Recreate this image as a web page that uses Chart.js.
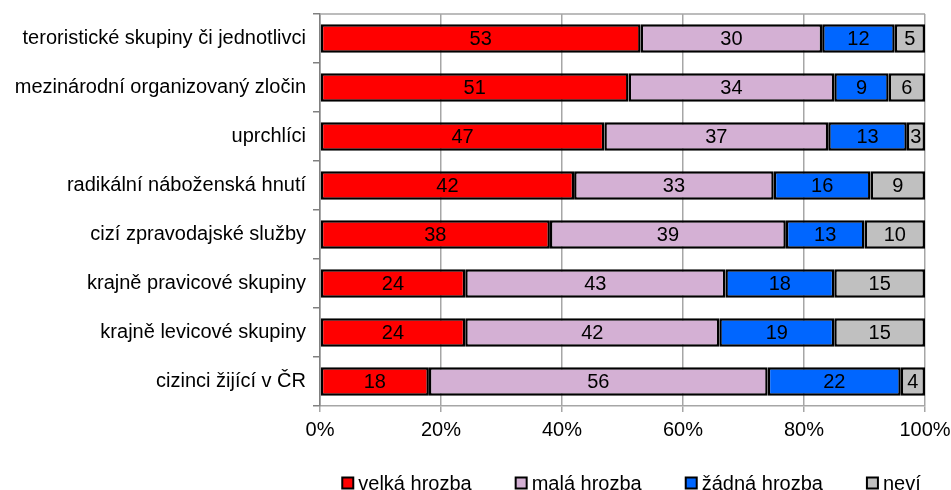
<!DOCTYPE html>
<html>
<head>
<meta charset="utf-8">
<script src="https://cdn.jsdelivr.net/npm/chart.js@4/dist/chart.umd.min.js"></script>
<style>
  html, body { margin: 0; padding: 0; background: #fff; }
  #wrap { width: 951px; height: 490px; }
</style>
</head>
<body>
<div id="wrap"><canvas id="barChart"></canvas></div>
<script>
// categories (top to bottom)
const categories = [
  "teroristické skupiny či jednotlivci",
  "mezinárodní organizovaný zločin",
  "uprchlíci",
  "radikální náboženská hnutí",
  "cizí zpravodajské služby",
  "krajně pravicové skupiny",
  "krajně levicové skupiny",
  "cizinci žijící v ČR"
];
// series values (percent)
const velkaHrozba = [53, 51, 47, 42, 38, 24, 24, 18];
const malaHrozba  = [30, 34, 37, 33, 39, 43, 42, 56];
const zadnaHrozba = [12,  9, 13, 16, 13, 18, 19, 22];
const nevi        = [ 5,  6,  3,  9, 10, 15, 15,  4];
const seriesNames = ["velká hrozba", "malá hrozba", "žádná hrozba", "neví"];
const seriesColors = ["#ff0000", "#d4b0d4", "#0066ff", "#c0c0c0"];
const xTicks = [0, 20, 40, 60, 80, 100];

const FONT = "'Liberation Sans', Arial, sans-serif";
const GRID = "#a6a6a6";

// value in the middle of each segment
const segmentLabels = {
  id: "segmentLabels",
  afterDatasetsDraw(chart) {
    const ctx = chart.ctx;
    ctx.save();
    ctx.font = "20px " + FONT;
    ctx.fillStyle = "#000";
    ctx.textAlign = "center";
    ctx.textBaseline = "middle";
    chart.data.datasets.forEach((ds, i) => {
      const meta = chart.getDatasetMeta(i);
      meta.data.forEach((bar, j) => {
        const p = bar.getProps(["x", "base", "y"], true);
        ctx.fillText(String(ds.data[j]), (p.x + p.base) / 2, p.y + 1);
      });
    });
    ctx.restore();
  }
};

// top frame line of the plot area
const topLine = {
  id: "topLine",
  beforeDatasetsDraw(chart) {
    const { ctx, chartArea: a } = chart;
    ctx.save();
    ctx.strokeStyle = GRID;
    ctx.lineWidth = 1.5;
    ctx.beginPath();
    ctx.moveTo(a.left, a.top);
    ctx.lineTo(a.right, a.top);
    ctx.stroke();
    ctx.restore();
  }
};

// legend under the plot area
const bottomLegend = {
  id: "bottomLegend",
  afterDraw(chart) {
    const { ctx, chartArea: a } = chart;
    const box = 11, gapText = 5, gapItem = 44, y = 483;
    ctx.save();
    ctx.font = "20px " + FONT;
    const items = chart.data.datasets.map(ds => ({
      text: ds.label, color: ds.backgroundColor, w: ctx.measureText(ds.label).width
    }));
    const total = items.reduce((s, it) => s + box + gapText + it.w, 0) + gapItem * (items.length - 1);
    let x = (a.left + a.right) / 2 + 9 - total / 2;
    ctx.textBaseline = "middle";
    ctx.textAlign = "left";
    for (const it of items) {
      ctx.fillStyle = it.color;
      ctx.fillRect(x, y - box / 2, box, box);
      ctx.strokeStyle = "#000";
      ctx.lineWidth = 2;
      ctx.strokeRect(x, y - box / 2, box, box);
      ctx.fillStyle = "#000";
      ctx.fillText(it.text, x + box + gapText, y + 1);
      x += box + gapText + it.w + gapItem;
    }
    ctx.restore();
  }
};

const datasets = [velkaHrozba, malaHrozba, zadnaHrozba, nevi].map((d, i) => ({
  label: seriesNames[i],
  data: d,
  backgroundColor: seriesColors[i],
  borderColor: "#000",
  borderWidth: 2.5,
  borderSkipped: false,
  categoryPercentage: 1,
  barPercentage: 0.58
}));

new Chart(document.getElementById("barChart"), {
  type: "bar",
  data: { labels: categories, datasets: datasets },
  plugins: [topLine, segmentLabels, bottomLegend],
  options: {
    indexAxis: "y",
    responsive: true,
    maintainAspectRatio: false,
    animation: false,
    layout: { padding: { left: 0, right: 26, top: 14, bottom: 42 } },
    scales: {
      x: {
        stacked: true,
        min: 0,
        max: 100,
        afterBuildTicks: (s) => { s.ticks = xTicks.map(v => ({ value: v })); },
        afterFit: (s) => { s.paddingLeft = 0; s.paddingRight = 0; },
        ticks: {
          callback: (v) => v + "%",
          color: "#000",
          font: { family: FONT, size: 20 },
          padding: 6,
          maxRotation: 0
        },
        grid: { color: GRID, lineWidth: 1.5, tickLength: 6, tickColor: GRID },
        border: { display: true, color: GRID, width: 1.5 }
      },
      y: {
        stacked: true,
        afterFit: (s) => { s.width = 320; s.paddingTop = 0; s.paddingBottom = 0; },
        ticks: {
          color: "#000",
          font: { family: FONT, size: 20 },
          padding: 7
        },
        grid: {
          offset: true,
          drawOnChartArea: false,
          tickColor: "#808080",
          lineWidth: 1.5,
          tickLength: 7
        },
        border: { display: true, color: "#808080", width: 1.5 }
      }
    },
    plugins: {
      legend: { display: false },
      tooltip: { enabled: false }
    }
  }
});
</script>
</body>
</html>
